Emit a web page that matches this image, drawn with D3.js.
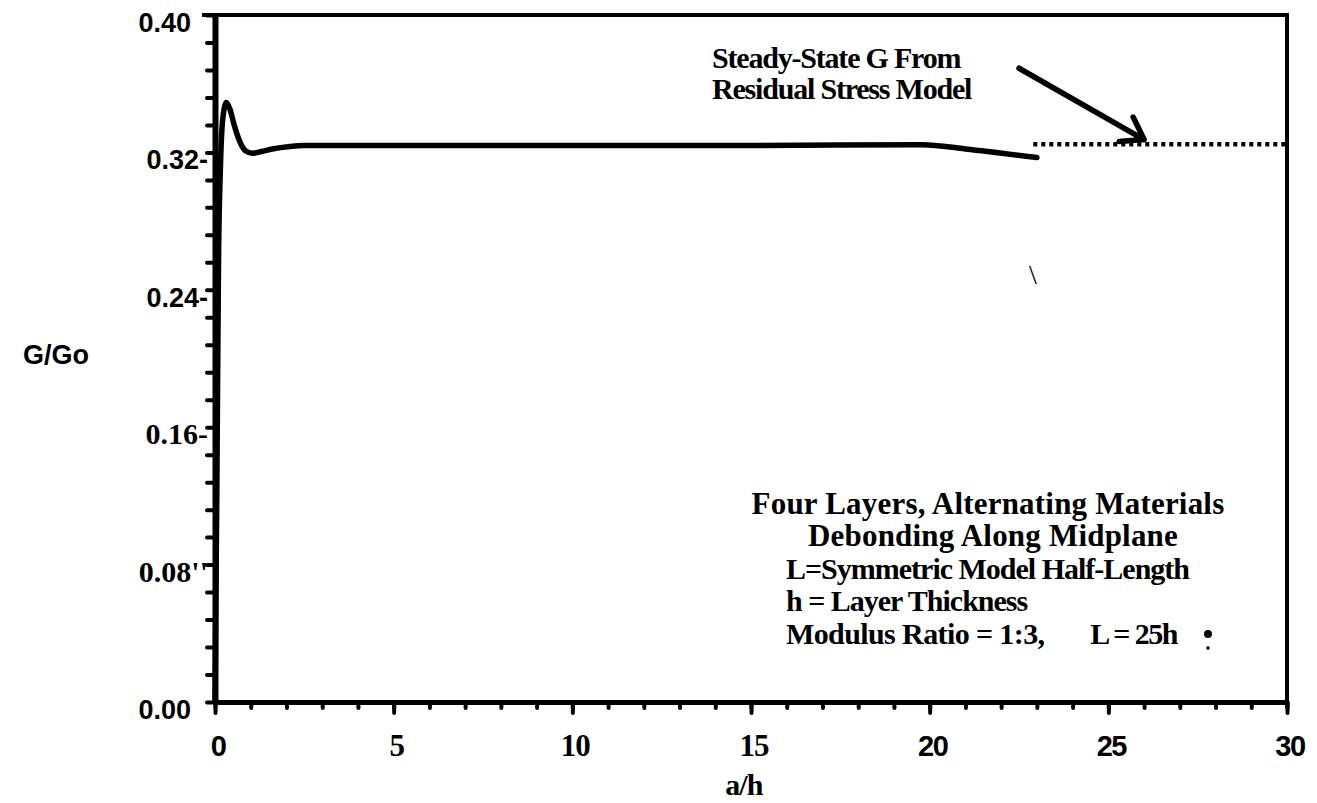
<!DOCTYPE html>
<html>
<head>
<meta charset="utf-8">
<script src="https://cdn.jsdelivr.net/npm/d3@7"></script>
<style>
  body { margin: 0; background: #fff; }
  svg { display: block; }
</style>
</head>
<body>
<svg width="1317" height="803" viewBox="0 0 1317 803"></svg>
<script>
// G/Go against a/h
const crackLength = [0, 0.05, 0.1, 0.15, 0.22, 0.32, 0.42, 0.55, 0.7, 0.85, 1.05, 1.3, 1.6, 2.1, 2.5, 5, 10, 15, 19.8, 21, 23];
const energyRatio = [0, 0.12, 0.26, 0.31, 0.34, 0.349, 0.345, 0.335, 0.326, 0.321, 0.3195, 0.3205, 0.322, 0.3235, 0.324, 0.324, 0.324, 0.324, 0.3245, 0.322, 0.317];

// steady-state value from the residual stress model
const steadyX = [22.9, 30];
const steadyY = [0.3248, 0.3248];

// annotation arrow (tail, tip) in data units
const arrowX = [22.5, 26.0];
const arrowY = [0.369, 0.3275];

const xTicks = [0, 5, 10, 15, 20, 25, 30];
const xTickLabels = ["0", "5", "10", "15", "20", "25", "30"];
const yTicks = [0.40, 0.32, 0.24, 0.16, 0.08, 0.00];
const yTickLabels = ["0.40", "0.32-", "0.24-", "0.16-", "0.08''", "0.00"];

const calloutLines = ["Steady-State G From", "Residual Stress Model"];
const headLines = ["Four Layers, Alternating Materials", "Debonding Along Midplane"];
const defLines = ["L=Symmetric Model Half-Length", "h = Layer Thickness"];
const ratioParts = ["Modulus Ratio = 1:3,", "L = 25h"];

const svg = d3.select("svg");
const SANS = "'Liberation Sans', Arial, sans-serif";
const SERIF = "'Liberation Serif', 'Times New Roman', serif";

const x = d3.scaleLinear().domain([0, 30]).range([215, 1287]);
const y = d3.scaleLinear().domain([0, 0.4]).range([702, 15]);

// frame: top and right borders
svg.append("line")
    .attr("x1", 202).attr("x2", x(30) + 2)
    .attr("y1", y(0.4)).attr("y2", y(0.4))
    .attr("stroke", "#000").attr("stroke-width", 4);
svg.append("line")
    .attr("x1", x(30)).attr("x2", x(30))
    .attr("y1", y(0.4)).attr("y2", y(0) + 6)
    .attr("stroke", "#000").attr("stroke-width", 4);

// bottom axis, minor and major ticks
const xMinor = svg.append("g")
    .attr("transform", `translate(0,${y(0)})`)
    .call(d3.axisBottom(x).tickValues(d3.range(0, 31, 1)).tickSize(6).tickFormat("").tickSizeOuter(0));
const xMajor = svg.append("g")
    .attr("transform", `translate(0,${y(0)})`)
    .call(d3.axisBottom(x).tickValues(xTicks).tickSize(11).tickFormat("").tickSizeOuter(0));
[xMinor, xMajor].forEach(g => {
    g.select(".domain").attr("stroke", "#000").attr("stroke-width", 5);
    g.selectAll(".tick line").attr("stroke", "#000").attr("stroke-width", 4).attr("stroke-linecap", "round");
});

// left axis
const yAxis = svg.append("g")
    .attr("transform", `translate(${x(0)},0)`)
    .call(d3.axisLeft(y).tickValues(d3.range(0, 0.4001, 0.016)).tickSize(8).tickFormat("").tickSizeOuter(0));
yAxis.select(".domain").attr("stroke", "#000").attr("stroke-width", 6);
yAxis.selectAll(".tick line").attr("stroke", "#000").attr("stroke-width", 4).attr("stroke-linecap", "round");

// tick labels (the scan mixes sans and serif digits)
const serifX = new Set(["5", "10", "15"]);
svg.append("g").selectAll("text")
    .data(xTicks)
    .join("text")
    .attr("x", d => x(d) + 3)
    .attr("y", y(0) + 54)
    .attr("text-anchor", "middle")
    .attr("font-weight", "bold")
    .attr("font-size", (d, i) => serifX.has(xTickLabels[i]) ? 31 : 29)
    .attr("letter-spacing", (d, i) => serifX.has(xTickLabels[i]) ? -1 : -1.5)
    .attr("font-family", (d, i) => serifX.has(xTickLabels[i]) ? SERIF : SANS)
    .text((d, i) => xTickLabels[i]);

const serifY = new Set(["0.16-", "0.08''"]);
svg.append("g").selectAll("text")
    .data(yTicks)
    .join("text")
    .attr("x", (d, i) => /[-']$/.test(yTickLabels[i]) ? 208 : 191)
    .attr("y", d => y(d) + 17)
    .attr("text-anchor", "end")
    .attr("font-weight", "bold")
    .attr("font-size", (d, i) => serifY.has(yTickLabels[i]) ? 30 : 27)
    .attr("font-family", (d, i) => serifY.has(yTickLabels[i]) ? SERIF : SANS)
    .text((d, i) => yTickLabels[i]);

// axis titles
svg.append("text")
    .attr("x", 56).attr("y", 364)
    .attr("text-anchor", "middle")
    .attr("font-family", SANS).attr("font-weight", "bold").attr("font-size", 27)
    .text("G/Go");
svg.append("text")
    .attr("x", x(14.8)).attr("y", 795)
    .attr("text-anchor", "middle")
    .attr("font-family", SERIF).attr("font-weight", "bold").attr("font-size", 30)
    .attr("letter-spacing", -1)
    .text("a/h");

// FE curve
const points = crackLength.map((d, i) => [d, energyRatio[i]]);
svg.append("path")
    .datum(points)
    .attr("fill", "none")
    .attr("stroke", "#000")
    .attr("stroke-width", 5.5)
    .attr("stroke-linejoin", "round")
    .attr("stroke-linecap", "round")
    .attr("d", d3.line().x(d => x(d[0])).y(d => y(d[1])).curve(d3.curveMonotoneX));

// steady-state dotted line
svg.append("path")
    .datum(steadyX.map((d, i) => [d, steadyY[i]]))
    .attr("fill", "none")
    .attr("stroke", "#000")
    .attr("stroke-width", 4.5)
    .attr("stroke-dasharray", "4,4")
    .attr("d", d3.line().x(d => x(d[0])).y(d => y(d[1])));

// callout arrow
const tail = [x(arrowX[0]), y(arrowY[0])];
const tip = [x(arrowX[1]), y(arrowY[1])];
const ang = Math.atan2(tip[1] - tail[1], tip[0] - tail[0]);
const barb = a => [tip[0] - 25 * Math.cos(ang + a), tip[1] - 25 * Math.sin(ang + a)];
svg.append("path")
    .attr("fill", "none")
    .attr("stroke", "#000")
    .attr("stroke-width", 5.5)
    .attr("stroke-linecap", "round")
    .attr("stroke-linejoin", "round")
    .attr("d", `M${tail}L${tip}M${barb(0.6)}L${tip}L${barb(-0.6)}`);

svg.append("g")
    .attr("font-family", SERIF).attr("font-weight", "bold").attr("font-size", 30)
    .attr("letter-spacing", -1.2)
    .selectAll("text")
    .data(calloutLines)
    .join("text")
    .attr("x", 712)
    .attr("y", (d, i) => 68 + i * 31)
    .text(d => d);

// note block
const note = svg.append("g").attr("font-family", SERIF).attr("font-weight", "bold");
note.selectAll(".head")
    .data(headLines)
    .join("text")
    .attr("class", "head")
    .attr("x", (d, i) => [988, 993][i])
    .attr("y", (d, i) => 514 + i * 32)
    .attr("text-anchor", "middle")
    .attr("font-size", 31)
    .attr("letter-spacing", 0.2)
    .text(d => d);
note.selectAll(".def")
    .data(defLines)
    .join("text")
    .attr("class", "def")
    .attr("x", 786)
    .attr("y", (d, i) => 579 + i * 32)
    .attr("font-size", 30)
    .attr("letter-spacing", -1)
    .text(d => d);
note.append("text")
    .attr("x", 786).attr("y", 644)
    .attr("font-size", 30).attr("letter-spacing", -0.6)
    .text(ratioParts[0]);
note.append("text")
    .attr("x", 1177).attr("y", 644)
    .attr("text-anchor", "end")
    .attr("font-size", 30).attr("letter-spacing", -1.5)
    .text(ratioParts[1]);
note.append("circle").attr("cx", 1208).attr("cy", 634).attr("r", 4).attr("fill", "#000");
note.append("circle").attr("cx", 1208).attr("cy", 648).attr("r", 1.8).attr("fill", "#000");

// scan mark inside the plot
svg.append("text")
    .attr("x", 1033).attr("y", 284)
    .attr("text-anchor", "middle")
    .attr("font-family", SERIF).attr("font-size", 28)
    .text("\\");
</script>
</body>
</html>
